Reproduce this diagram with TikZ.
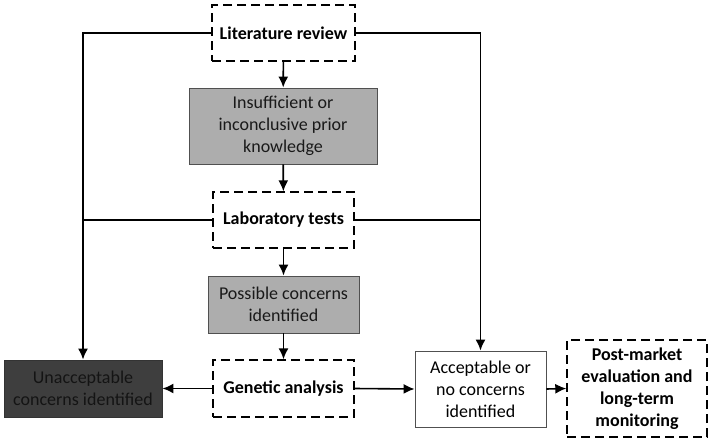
\documentclass[tikz,border=0pt]{standalone}
\usepackage{fontspec}
\setmainfont{Carlito}
\usetikzlibrary{arrows.meta}
\definecolor{midgray}{HTML}{ADADAD}
\definecolor{darkfill}{HTML}{3E3E3E}
\definecolor{darktext}{HTML}{141414}
\definecolor{edgegray}{HTML}{505050}
\begin{document}
\begin{tikzpicture}[x=1pt,y=-1pt,
  base/.style={align=center,inner sep=2pt,font=\fontsize{18}{22}\selectfont},
  dashbox/.style={base,draw=black,line width=1.4pt,dash pattern=on 9pt off 5pt,font=\fontsize{18}{22}\selectfont\bfseries},
  graybox/.style={base,draw=edgegray,line width=0.9pt,fill=midgray,text=black!90},
  darkbox/.style={base,draw=black!80,line width=0.9pt,fill=darkfill,text=darktext},
  whitebox/.style={base,draw=edgegray,line width=0.9pt,fill=white},
  conn/.style={line width=1.6pt,black},
  arr/.style={conn,-{Latex[length=11pt,width=10pt]}}
]
\useasboundingbox (0,0) rectangle (709,442);
\fill[white] (0,0) rectangle (709,442);
\node[dashbox,minimum width=143pt,minimum height=56pt] (lit) at (283.5,33) {Literature review};
\node[graybox,minimum width=188pt,minimum height=76pt] (insuf) at (283,126) {Insufficient or\\inconclusive prior\\knowledge};
\node[dashbox,minimum width=141pt,minimum height=56pt] (lab) at (283.5,220) {Laboratory tests};
\node[graybox,minimum width=151pt,minimum height=57pt] (poss) at (283.5,304.5) {Possible concerns\\identified};
\node[dashbox,minimum width=141pt,minimum height=57pt] (gen) at (283.5,388.5) {Genetic analysis};
\node[darkbox,minimum width=158pt,minimum height=57pt] (unacc) at (83,388.5) {Unacceptable\\concerns identified};
\node[whitebox,minimum width=131pt,minimum height=76pt] (acc) at (480.5,389) {Acceptable or\\no concerns\\identified};
\node[dashbox,minimum width=140pt,minimum height=97pt] (post) at (637,388.5) {Post-market\\evaluation and\\long-term\\monitoring};
\draw[arr] (lit) -- (insuf);
\draw[arr] (insuf) -- (lab);
\draw[arr] (lab) -- (poss);
\draw[arr] (poss) -- (gen);
\draw[arr] (lit.west) -| (unacc.north);
\draw[arr] (lit.east) -| (acc.north);
\draw[conn] (lab.west) -- (lab.west -| unacc.north);
\draw[conn] (lab.east) -- (lab.east -| acc.north);
\draw[arr] (gen.west) -- (unacc.east);
\draw[arr] (gen.east) -- (acc.west);
\draw[arr] (acc.east) -- (post.west);
\end{tikzpicture}
\end{document}
